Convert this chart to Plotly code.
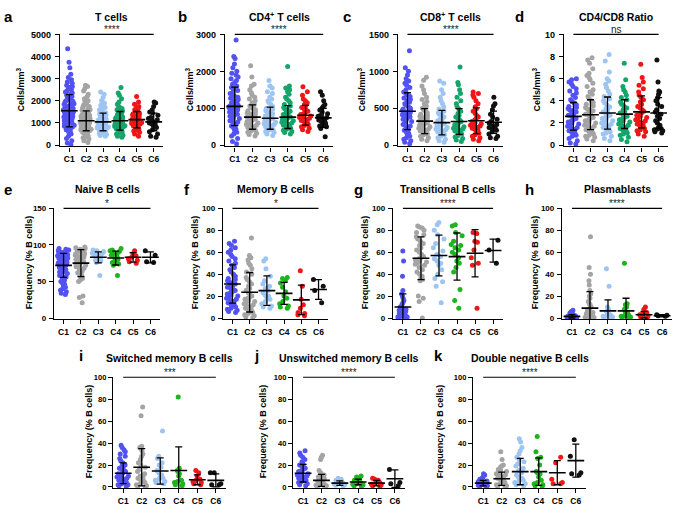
import plotly.graph_objects as go

categories = ["C1", "C2", "C3", "C4", "C5", "C6"]

# ---------------- a: T cells (cells/mm3) ----------------
t_cells = [
    [4350, 3750, 3500, 3200, 3050, 2950, 2850, 2800, 2700, 2650, 2600, 2550, 2500, 2450, 2400, 2350, 2300, 2250,
     2200, 2150, 2100, 2050, 2000, 1980, 1950, 1900, 1870, 1850, 1800, 1780, 1750, 1720, 1700, 1680, 1650, 1620,
     1600, 1580, 1550, 1530, 1500, 1480, 1450, 1420, 1400, 1380, 1350, 1320, 1300, 1280, 1250, 1220, 1200, 1180,
     1150, 1120, 1100, 1080, 1050, 1020, 1000, 980, 950, 920, 900, 870, 850, 820, 800, 750, 700, 650, 600, 550,
     500, 400, 300, 200, 100, 30],
    [2700, 2650, 2550, 2450, 2300, 2200, 2100, 2000, 1950, 1900, 1850, 1800, 1750, 1700, 1650, 1600, 1570, 1540,
     1500, 1470, 1440, 1400, 1380, 1350, 1320, 1300, 1280, 1250, 1230, 1200, 1180, 1160, 1140, 1120, 1100, 1080,
     1060, 1040, 1020, 1000, 980, 960, 940, 920, 900, 880, 860, 840, 820, 800, 780, 760, 740, 720, 700, 680, 650,
     620, 600, 570, 540, 500, 460, 420, 380, 330, 280, 200, 120],
    [2400, 2300, 2150, 2000, 1900, 1800, 1750, 1700, 1650, 1600, 1550, 1500, 1460, 1420, 1380, 1340, 1300, 1270,
     1240, 1210, 1180, 1150, 1120, 1100, 1080, 1060, 1040, 1020, 1000, 980, 960, 940, 920, 900, 880, 860, 840, 820,
     800, 780, 760, 740, 720, 700, 680, 650, 620, 590, 560, 520, 480, 440, 400],
    [2600, 2350, 2250, 2100, 1950, 1850, 1750, 1700, 1650, 1600, 1550, 1500, 1450, 1400, 1360, 1320, 1280, 1250,
     1220, 1190, 1160, 1130, 1100, 1080, 1060, 1040, 1020, 1000, 980, 960, 940, 920, 900, 880, 860, 840, 820, 790,
     760, 730, 700, 670, 640, 600, 560, 500, 450, 400, 350],
    [2200, 1950, 1850, 1750, 1700, 1650, 1600, 1550, 1500, 1450, 1420, 1390, 1360, 1330, 1300, 1270, 1240, 1210,
     1180, 1160, 1140, 1120, 1100, 1080, 1060, 1040, 1020, 1000, 980, 950, 920, 890, 860, 830, 800, 760, 720, 680,
     640, 580, 500, 400],
    [1950, 1900, 1750, 1600, 1500, 1450, 1350, 1250, 1200, 1150, 1100, 1050, 1000, 950, 900, 850, 800, 700, 600,
     500, 400, 350],
]
t_cells_mean = [1550, 1100, 1050, 1100, 1150, 1050]
t_cells_sd = [730, 450, 400, 420, 370, 400]

# ---------------- b: CD4+ T cells ----------------
cd4 = [
    [2850, 2400, 2350, 2200, 2100, 2000, 1950, 1900, 1850, 1800, 1750, 1700, 1650, 1600, 1560, 1520, 1480, 1440,
     1400, 1360, 1330, 1300, 1270, 1240, 1210, 1180, 1150, 1120, 1100, 1080, 1060, 1040, 1020, 1000, 980, 960, 940,
     920, 900, 880, 860, 840, 820, 800, 780, 750, 720, 690, 660, 630, 600, 560, 520, 480, 440, 400, 350, 300, 250,
     180, 100, 40],
    [2150, 1850, 1650, 1600, 1500, 1420, 1350, 1300, 1250, 1200, 1150, 1100, 1060, 1020, 990, 960, 930, 900, 880,
     860, 840, 820, 800, 780, 760, 740, 720, 700, 680, 660, 640, 620, 600, 580, 560, 540, 520, 500, 480, 460, 440,
     420, 400, 380, 350, 320, 290, 250],
    [1750, 1600, 1550, 1450, 1400, 1300, 1250, 1200, 1150, 1100, 1050, 1000, 970, 940, 910, 880, 850, 820, 800,
     780, 760, 740, 720, 700, 680, 660, 640, 620, 600, 580, 560, 540, 520, 500, 480, 460, 440, 420, 400, 370, 340,
     300, 260],
    [2130, 1600, 1550, 1500, 1450, 1380, 1300, 1250, 1200, 1150, 1100, 1060, 1020, 980, 950, 920, 890, 860, 830,
     800, 780, 760, 740, 720, 700, 680, 660, 640, 620, 600, 580, 560, 540, 520, 500, 480, 460, 430, 400, 370, 340,
     300],
    [1580, 1450, 1350, 1250, 1200, 1150, 1100, 1060, 1020, 980, 950, 920, 890, 860, 830, 810, 790, 770, 750, 730,
     710, 690, 670, 650, 620, 590, 560, 530, 500, 460, 420, 370],
    [1450, 1350, 1200, 1100, 1050, 1000, 950, 900, 850, 800, 780, 750, 720, 700, 680, 650, 620, 600, 580, 550, 520,
     500, 450, 230],
]
cd4_mean = [1050, 760, 730, 760, 810, 740]
cd4_sd = [520, 330, 300, 310, 270, 260]

# ---------------- c: CD8+ T cells ----------------
cd8 = [
    [1280, 1050, 1000, 950, 900, 870, 840, 810, 780, 750, 720, 700, 680, 660, 640, 620, 600, 580, 560, 540, 520,
     500, 490, 480, 470, 460, 450, 440, 430, 420, 410, 400, 390, 380, 370, 360, 350, 340, 320, 300, 280, 260, 240,
     220, 200, 180, 160, 140, 120, 100, 80, 60, 40, 20],
    [920, 880, 800, 750, 700, 650, 620, 590, 560, 530, 500, 480, 460, 440, 420, 400, 390, 380, 370, 360, 350, 340,
     330, 320, 310, 300, 290, 280, 270, 260, 250, 240, 230, 220, 210, 200, 190, 180, 170, 160, 150, 140, 120, 100,
     80, 60],
    [870, 840, 750, 700, 650, 600, 560, 520, 490, 460, 440, 420, 400, 380, 360, 345, 330, 315, 300, 290, 280, 270,
     260, 250, 240, 230, 220, 210, 200, 190, 180, 170, 160, 150, 140, 120, 100, 80, 60, 40],
    [1060, 850, 820, 750, 700, 650, 600, 560, 520, 490, 460, 430, 400, 380, 360, 340, 320, 305, 290, 275, 260, 250,
     240, 230, 220, 210, 200, 190, 180, 170, 160, 150, 130, 110, 90, 70, 50],
    [720, 700, 680, 650, 600, 560, 520, 490, 460, 430, 400, 380, 360, 340, 320, 300, 290, 280, 270, 260, 250, 240,
     230, 220, 200, 180, 160, 140, 120, 100, 80, 60],
    [650, 560, 530, 480, 420, 380, 350, 320, 300, 280, 260, 250, 240, 230, 220, 210, 200, 180, 150, 120, 100, 90],
]
cd8_mean = [460, 325, 305, 320, 330, 310]
cd8_sd = [250, 170, 165, 175, 175, 150]

# ---------------- d: CD4/CD8 ratio ----------------
ratio = [
    [6.0, 5.9, 5.7, 5.5, 5.3, 5.1, 4.9, 4.7, 4.5, 4.3, 4.1, 3.95, 3.8, 3.65, 3.5, 3.4, 3.3, 3.2, 3.1, 3.0, 2.9, 2.8,
     2.7, 2.6, 2.5, 2.4, 2.3, 2.2, 2.1, 2.0, 1.9, 1.8, 1.7, 1.6, 1.5, 1.4, 1.3, 1.2, 1.1, 1.0, 0.9, 0.8, 0.6, 0.4,
     0.2, 0.1],
    [7.9, 7.7, 7.4, 6.9, 6.5, 6.3, 6.1, 5.9, 5.6, 5.3, 5.0, 4.8, 4.6, 4.4, 4.2, 4.0, 3.85, 3.7, 3.55, 3.4, 3.3, 3.2,
     3.1, 3.0, 2.9, 2.8, 2.7, 2.6, 2.5, 2.4, 2.3, 2.2, 2.1, 2.0, 1.9, 1.8, 1.7, 1.6, 1.5, 1.4, 1.3, 1.2, 1.1, 1.0,
     0.9, 0.8, 0.7, 0.55, 0.4],
    [8.2, 7.6, 6.6, 6.0, 5.8, 5.5, 5.2, 4.9, 4.6, 4.4, 4.2, 4.0, 3.8, 3.6, 3.45, 3.3, 3.15, 3.0, 2.9, 2.8, 2.7, 2.6,
     2.5, 2.4, 2.3, 2.2, 2.1, 2.0, 1.9, 1.8, 1.7, 1.6, 1.5, 1.4, 1.3, 1.2, 1.1, 1.0, 0.8, 0.6, 0.4],
    [7.4, 5.9, 5.3, 5.0, 4.8, 4.5, 4.3, 4.1, 3.9, 3.7, 3.5, 3.35, 3.2, 3.05, 2.9, 2.8, 2.7, 2.6, 2.5, 2.4, 2.3, 2.2,
     2.1, 2.0, 1.9, 1.8, 1.7, 1.6, 1.5, 1.4, 1.3, 1.2, 1.1, 1.0, 0.9, 0.7, 0.5, 0.3],
    [7.3, 6.1, 5.7, 5.4, 5.1, 4.8, 4.5, 4.3, 4.1, 3.9, 3.7, 3.5, 3.35, 3.2, 3.05, 2.9, 2.8, 2.7, 2.6, 2.5, 2.4, 2.3,
     2.2, 2.1, 2.0, 1.9, 1.8, 1.7, 1.6, 1.5, 1.4, 1.3, 1.2, 1.0, 0.8],
    [7.7, 5.7, 4.9, 4.8, 4.6, 4.3, 4.0, 3.7, 3.5, 3.2, 3.0, 2.8, 2.6, 2.4, 2.2, 2.0, 1.8, 1.6, 1.5, 1.45, 1.4, 1.3,
     1.2, 1.1],
]
ratio_mean = [2.6, 2.75, 2.9, 2.8, 3.0, 2.9]
ratio_sd = [1.25, 1.35, 1.45, 1.3, 1.45, 1.4]

# ---------------- e: Naive B cells (%) ----------------
naive_b = [
    [95, 94, 93, 92, 91, 90, 89, 88, 87, 86, 85, 84, 83, 82, 81, 80, 79, 78, 77, 76, 75, 74, 73, 72, 71, 70, 69, 68,
     67, 66, 65, 64, 63, 62, 61, 60, 58, 56, 54, 52, 50, 48, 46, 44, 42, 40, 38, 36, 34, 32, 90, 88, 85, 82, 78, 75],
    [97, 96, 95, 94, 93, 92, 91, 90, 89, 88, 87, 86, 85, 84, 83, 82, 81, 80, 79, 78, 77, 76, 75, 74, 73, 72, 71, 70,
     68, 66, 64, 62, 60, 58, 56, 54, 52, 50, 30, 28, 21],
    [93, 92, 91, 90, 89, 88, 87, 86, 85, 84, 83, 82, 81, 80, 79, 78, 76, 58],
    [95, 93, 92, 91, 90, 88, 86, 84, 83, 82, 80, 78, 76, 74, 72, 58],
    [92, 88, 85, 83, 81, 79, 77, 75],
    [92, 86, 77, 76],
]
naive_b_mean = [72, 75, 83, 82, 83, 83]
naive_b_sd = [16.5, 18.5, 7.5, 9.5, 6.5, 7.5]

# ---------------- f: Memory B cells ----------------
memory_b = [
    [70, 68, 66, 64, 62, 60, 58, 56, 54, 52, 50, 48, 46, 44, 42, 40, 38, 36, 35, 34, 33, 32, 31, 30, 29, 28, 27, 26,
     25, 24, 23, 22, 21, 20, 19, 18, 17, 16, 15, 14, 13, 12, 11, 10, 9, 8, 7, 6, 5],
    [73, 57, 55, 53, 50, 48, 45, 42, 40, 37, 35, 33, 31, 29, 27, 25, 23, 21, 20, 19, 18, 17, 16, 15, 14, 13, 12, 11,
     10, 9, 8, 7, 6, 5, 4, 3, 2, 1, 0.5],
    [54, 52, 45, 38, 34, 31, 29, 27, 25, 23, 21, 20, 19, 17, 15, 13, 11, 10, 9],
    [37, 36, 34, 32, 28, 24, 20, 18, 15, 13, 11, 10, 9],
    [43, 29, 17, 12, 9, 5, 4, 3, 2],
    [35, 29, 25, 14],
]
memory_b_mean = [31, 23.5, 25, 22.5, 16.5, 26]
memory_b_sd = [17.5, 18, 13.5, 10, 13.5, 9]

# ---------------- g: Transitional B cells ----------------
transitional_b = [
    [61, 52, 38, 25, 22, 20, 18, 16, 14, 12, 10, 9, 8, 7, 6, 5, 4, 3, 2, 1.5, 1, 0.5, 0, 3, 5, 7, 2, 1],
    [84, 83, 82, 80, 78, 76, 74, 72, 70, 68, 66, 64, 62, 60, 58, 56, 55, 54, 53, 52, 51, 50, 49, 48, 46, 44, 42, 40,
     38, 36, 35, 34, 20, 18, 15, 0],
    [87, 85, 80, 76, 72, 68, 64, 61, 58, 56, 54, 52, 50, 48, 44, 40, 36, 33, 29, 14],
    [85, 84, 78, 75, 70, 67, 66, 64, 62, 60, 58, 55, 52, 50, 46, 42, 26, 16, 9],
    [78, 77, 70, 69, 62, 55, 50, 48, 9],
    [71, 62, 50],
]
transitional_b_mean = [10, 54.5, 57, 56, 59, 61.5]
transitional_b_sd = [12, 19.5, 18.5, 21.5, 21.5, 10.5]

# ---------------- h: Plasmablasts ----------------
plasmablasts = [
    [7, 6, 5, 4.5, 4, 3.5, 3, 2.5, 2, 2, 1.5, 1.5, 1, 1, 1, 0.8, 0.6, 0.5, 0.4, 0.3, 0.2, 0.1, 0, 0, 2, 3, 1.2],
    [74, 46, 40, 34, 30, 25, 22, 20, 18, 15, 13, 12, 10, 9, 8, 7, 6, 5, 4.5, 4, 3.5, 3, 2.5, 2, 1.5, 1, 0.8, 0.5,
     0.3, 0, 1, 2, 3],
    [45, 29, 10, 8, 6, 5, 4, 3, 2.5, 2, 1.5, 1, 0.5, 0],
    [50, 13, 12, 10, 8, 6, 5, 4, 3, 2, 1.5, 1, 0.5, 0],
    [10, 8, 5, 4, 3, 2, 1, 0.5],
    [3, 2.5, 2, 1.5],
]
plasmablasts_mean = [1.5, 9, 6.5, 6.5, 3, 2]
plasmablasts_sd = [1.5, 15, 10, 11.5, 3, 1]

# ---------------- i: Switched memory B cells ----------------
switched_b = [
    [38, 36, 34, 32, 30, 28, 26, 24, 22, 20, 19, 18, 17, 16, 15, 14, 13, 12, 11, 10, 9, 8, 7, 6, 5, 4, 3, 2, 1, 0.5,
     10, 12, 8, 6, 4, 2],
    [73, 65, 37, 36, 35, 33, 30, 28, 25, 22, 20, 18, 16, 14, 12, 10, 9, 8, 7, 6, 5, 4, 3, 2, 1, 0.5, 0],
    [51, 28, 26, 22, 20, 18, 15, 13, 11, 9, 8, 7, 6, 5, 4, 3],
    [82, 17, 15, 14, 12, 10, 6, 5, 4, 3, 2, 1],
    [15, 13, 10, 7, 6, 5, 4, 3, 2],
    [13, 13, 3, 2, 2],
]
switched_b_mean = [12.5, 18, 14.5, 15, 6.5, 6]
switched_b_sd = [9.5, 17, 12, 21.5, 4.5, 6]

# ---------------- j: Unswitched memory B cells ----------------
unswitched_b = [
    [33, 31, 29, 27, 25, 23, 21, 20, 19, 18, 17, 16, 15, 14, 13, 12, 11, 10, 9, 8, 7, 6, 5, 4, 3, 2, 1, 12, 10, 8, 6],
    [29, 27, 25, 15, 13, 11, 10, 9, 8, 7, 6, 5, 4, 3.5, 3, 2.5, 2, 1.5, 1, 0.5, 0],
    [8, 7, 6, 5, 4.5, 4, 3.5, 3, 2.5, 2, 1.5, 1],
    [10, 9, 7, 6, 5, 4.5, 4, 3.5, 3, 2.5, 2, 1, 0.5],
    [8, 7, 6, 5, 4, 3, 2.5, 2, 1, 0.5],
    [16, 4, 3, 1],
]
unswitched_b_mean = [12.5, 6, 3.5, 4.5, 3.5, 7.5]
unswitched_b_sd = [8, 5.5, 2, 2.5, 2.5, 8]

# ---------------- k: Double negative B cells ----------------
double_neg_b = [
    [12, 11, 9, 8, 7, 6, 5.5, 5, 4.5, 4, 3.5, 3, 2.5, 2, 1.5, 1, 0.5, 0, 3, 4, 2, 5],
    [32, 25, 20, 19, 18, 16, 15, 14, 13, 12, 11, 10, 9, 8, 7, 6, 5, 4, 3, 2, 1, 0.5, 0],
    [44, 41, 36, 33, 30, 27, 25, 23, 21, 19, 17, 15, 13, 11, 9, 8, 7, 6, 5, 4, 3, 2, 1],
    [46, 32, 27, 26, 20, 14, 13, 12, 9, 6, 4, 3, 2, 1, 0.5],
    [27, 22, 7, 4, 3, 3],
    [43, 28, 13, 12, 11],
]
double_neg_b_mean = [3.5, 7.5, 14, 14, 13, 24]
double_neg_b_sd = [2.5, 6, 12, 12.5, 11, 15]

# ---------------- panel specs ----------------
cells_title = "Cells/mm<sup>3</sup>"
freq_title = "Frequency (% B cells)"
panels = [
    # letter, title, data, mean, sd, ymax, dtick, ytitle, significance, row
    ("a", "T cells", t_cells, t_cells_mean, t_cells_sd, 5000, 1000, cells_title, "****", 1),
    ("b", "CD4<sup>+</sup> T cells", cd4, cd4_mean, cd4_sd, 3000, 1000, cells_title, "****", 1),
    ("c", "CD8<sup>+</sup> T cells", cd8, cd8_mean, cd8_sd, 1500, 500, cells_title, "****", 1),
    ("d", "CD4/CD8 Ratio", ratio, ratio_mean, ratio_sd, 10, 2, cells_title, "ns", 1),
    ("e", "Naive B cells", naive_b, naive_b_mean, naive_b_sd, 150, 50, freq_title, "*", 2),
    ("f", "Memory B cells", memory_b, memory_b_mean, memory_b_sd, 100, 20, freq_title, "*", 2),
    ("g", "Transitional B cells", transitional_b, transitional_b_mean, transitional_b_sd, 100, 20, freq_title, "****", 2),
    ("h", "Plasmablasts", plasmablasts, plasmablasts_mean, plasmablasts_sd, 100, 20, freq_title, "****", 2),
    ("i", "Switched memory B cells", switched_b, switched_b_mean, switched_b_sd, 100, 20, freq_title, "***", 3),
    ("j", "Unswitched memory B cells", unswitched_b, unswitched_b_mean, unswitched_b_sd, 100, 20, freq_title, "****", 3),
    ("k", "Double negative B cells", double_neg_b, double_neg_b_mean, double_neg_b_sd, 100, 20, freq_title, "****", 3),
]

# layout geometry (pixels in a 676x507 canvas)
W, H = 676, 507
x_pix = [(60, 163), (225, 333), (398, 503), (564, 668),
         (54, 160), (223, 328), (393, 503), (562, 672),
         (113, 226), (293, 405), (473, 586)]
row_pix = {1: (30, 144), 2: (207, 320), 3: (379, 492)}
title_y = {1: 12, 2: 187, 3: 359}
ytitle_x = [21, 190, 362, 537, 29, 195, 365, 535, 89, 263, 440]
ytitle_y = {1: 86, 2: 262, 3: 434}
ytick_size = {1: 9, 2: 8, 3: 7.5}
ytick_standoff = {1: 2, 2: 1, 3: 0}
letter_pos = [(8, 12), (182, 12), (347, 12), (519, 12),
              (8, 188), (187, 188), (358, 188), (529, 188),
              (81, 357), (256, 357), (438, 357)]

colors_row1 = ["#5252f2", "#a4a4a4", "#9ec4f2", "#15a56b", "#f01616", "#111111"]
colors_rest = ["#5252f2", "#a4a4a4", "#9ec4f2", "#1db41d", "#f01616", "#111111"]

FONT = "Liberation Sans, Arial, Helvetica, sans-serif"

fig = go.Figure()
layout = dict(
    width=W, height=H, margin=dict(l=0, r=0, t=0, b=0),
    paper_bgcolor="white", plot_bgcolor="white", showlegend=False,
    font=dict(family=FONT, color="black"),
)
shapes, annotations = [], []

for n, (letter, title, data, means, sds, ymax, dtick, ytitle, sig, row) in enumerate(panels, start=1):
    xa = "x" if n == 1 else f"x{n}"
    ya = "y" if n == 1 else f"y{n}"
    cols = colors_row1 if row == 1 else colors_rest
    for i, vals in enumerate(data):
        fig.add_trace(go.Box(
            y=vals, x0=i, xaxis=xa, yaxis=ya,
            boxpoints="all", jitter=1.0, pointpos=0, width=0.7,
            fillcolor="rgba(0,0,0,0)", line=dict(width=0, color="rgba(0,0,0,0)"),
            marker=dict(color=cols[i], size=5, line=dict(width=0)),
            hoverinfo="skip", showlegend=False,
        ))
    fig.add_trace(go.Scatter(
        x=list(range(len(categories))), y=means, xaxis=xa, yaxis=ya, mode="markers",
        marker=dict(symbol="line-ew", size=12, color="black", line=dict(width=1.6, color="black")),
        error_y=dict(type="data", array=sds, visible=True, color="black", thickness=1.3, width=3.5),
        hoverinfo="skip", showlegend=False,
    ))
    x0p, x1p = x_pix[n - 1]
    y0p, y1p = row_pix[row]
    xd = [x0p / W, x1p / W]
    yd = [1 - y1p / H, 1 - y0p / H]
    key = "" if n == 1 else str(n)
    layout["xaxis" + key] = dict(
        domain=xd, anchor=ya, range=[-0.55, 5.55],
        tickvals=list(range(len(categories))), ticktext=categories,
        showline=True, linecolor="black", linewidth=1.3, ticks="outside", ticklen=4, tickwidth=1.2,
        tickcolor="black", showgrid=False, zeroline=False,
        tickfont=dict(family=FONT, size=8.5, weight="bold", color="black"),
    )
    layout["yaxis" + key] = dict(
        domain=yd, anchor=xa, range=[-0.012 * ymax, ymax], tick0=0, dtick=dtick, tickformat="d",
        showline=True, linecolor="black", linewidth=1.3, ticks="outside", ticklen=4, tickwidth=1.2,
        tickcolor="black", showgrid=False, zeroline=False, ticklabelstandoff=ytick_standoff[row],
        tickfont=dict(family=FONT, size=ytick_size[row], weight="bold", color="black"),
    )
    # y-axis title
    annotations.append(dict(xref="paper", yref="paper", x=ytitle_x[n - 1] / W, y=1 - ytitle_y[row] / H,
                            xanchor="center", yanchor="middle", textangle=-90, text=ytitle, showarrow=False,
                            font=dict(family=FONT, size=9, weight="bold", color="black")))
    # significance bar spanning C1..C6
    shapes.append(dict(type="line", xref=xa, x0=0, x1=len(categories) - 1,
                       yref=f"{ya} domain", y0=1.0, y1=1.0,
                       line=dict(color="black", width=1.2)))
    annotations.append(dict(xref=xa, x=(len(categories) - 1) / 2, yref=f"{ya} domain", y=1.0,
                            yanchor="bottom", yshift=-3, text=sig, showarrow=False,
                            font=dict(family=FONT, size=10, color="#222222")))
    # panel title
    annotations.append(dict(xref="paper", yref="paper", x=(xd[0] + xd[1]) / 2, y=1 - title_y[row] / H,
                            xanchor="center", yanchor="middle", text=title, showarrow=False,
                            font=dict(family=FONT, size=10.5, weight="bold", color="black")))
    lx, ly = letter_pos[n - 1]
    annotations.append(dict(xref="paper", yref="paper", x=lx / W, y=1 - ly / H,
                            xanchor="center", yanchor="middle", text=letter, showarrow=False,
                            font=dict(family=FONT, size=15, weight="bold", color="black")))

layout["shapes"] = shapes
layout["annotations"] = annotations
fig.update_layout(**layout)
fig.write_html("out.html", config={"displayModeBar": False},
               post_script="document.body.style.margin='0px';document.body.style.padding='0px';")
